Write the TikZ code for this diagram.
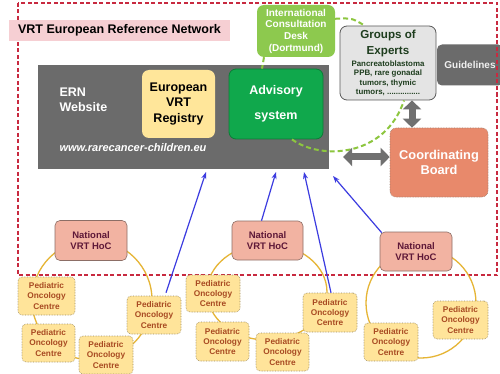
\documentclass[tikz,border=0pt]{standalone}
\usepackage{fontspec}
\setmainfont{Liberation Sans}
\usetikzlibrary{arrows.meta,calc}
\definecolor{erngray}{HTML}{6B6B6B}
\definecolor{regyellow}{HTML}{FFE69A}
\definecolor{advgreen}{HTML}{10A84C}
\definecolor{advborder}{HTML}{0B7D36}
\definecolor{icdgreen}{HTML}{8DC94E}
\definecolor{grpgray}{HTML}{E4E4E4}
\definecolor{grpborder}{HTML}{5A5A5A}
\definecolor{grptext}{HTML}{1E3D1E}
\definecolor{coordfill}{HTML}{E8896B}
\definecolor{coordborder}{HTML}{A08070}
\definecolor{hocfill}{HTML}{F2B3A2}
\definecolor{hocborder}{HTML}{8C6E66}
\definecolor{hoctext}{HTML}{5E1838}
\definecolor{pfill}{HTML}{FFE49A}
\definecolor{pborder}{HTML}{9A8A60}
\definecolor{ptext}{HTML}{A84A22}
\definecolor{ringcol}{HTML}{E6B535}
\definecolor{arrowblue}{HTML}{3C3CE0}
\definecolor{borderred}{HTML}{C82A40}
\definecolor{titlepink}{HTML}{F6CFD3}
\definecolor{fatgray}{HTML}{707070}
\definecolor{linkgreen}{HTML}{8DC63F}
\newcommand\grpbig{\fontsize{11.6}{14}\selectfont}
\begin{document}
\begin{tikzpicture}[x=1pt,y=-1pt,font=\bfseries]
\tikzset{
  box/.style={rounded corners=7pt,align=center,inner sep=1pt},
  podnode/.style={draw=pborder,densely dotted,line width=0.6pt,fill=pfill,rounded corners=4pt,
    minimum width=54pt,minimum height=38pt,align=center,text=ptext,inner sep=1pt,
    font=\bfseries\fontsize{8.3}{10.3}\selectfont},
  hocnode/.style={draw=hocborder,line width=0.6pt,fill=hocfill,rounded corners=5pt,
    minimum width=72pt,minimum height=40pt,align=center,text=hoctext,inner sep=1pt,
    font=\bfseries\fontsize{9.5}{11.5}\selectfont},
  ring/.style={draw=ringcol,line width=1.3pt},
  bluearrow/.style={draw=arrowblue,line width=1.2pt,-{Stealth[length=7pt,width=5pt]}},
  fatarrow/.style={draw=fatgray,line width=7pt,{Triangle[width=18pt,length=9pt]}-{Triangle[width=18pt,length=9pt]}},
  greenlink/.style={draw=linkgreen,line width=2pt,dash pattern=on 5pt off 3pt},
}
\useasboundingbox (0,0) rectangle (500,374);
\fill[white] (0,0) rectangle (500,374);

% ERN box
\node[fill=erngray,minimum width=291pt,minimum height=104pt,inner sep=0pt] (ern) at (183.5,117) {};
\node[anchor=west,text=white,align=left,font=\bfseries\fontsize{12.5}{15}\selectfont] (ernlabel) at (56,100) {ERN\\Website};
\node[anchor=west,text=white,font=\bfseries\itshape\fontsize{11}{13}\selectfont] (url) at (56,148) {www.rarecancer-children.eu};
\node[box,fill=regyellow,minimum width=73pt,minimum height=68pt,font=\bfseries\fontsize{12.5}{15.5}\selectfont] (registry) at (178.5,104) {European\\VRT\\Registry};
\node[box,draw=advborder,line width=0.8pt,fill=advgreen,minimum width=94pt,minimum height=70pt,text=white,font=\bfseries\fontsize{12.5}{25}\selectfont] (advisory) at (276,104) {Advisory\\system};

% Guidelines, groups, ICD, coordinating board
\node[box,rounded corners=5pt,fill=erngray,minimum width=66pt,minimum height=41pt,text=gray!12,font=\bfseries\fontsize{10}{12}\selectfont] (guide) at (470,65) {Guidelines};
\node[box,draw=grpborder,line width=0.8pt,fill=grpgray,minimum width=96pt,minimum height=74pt,text=grptext,font=\bfseries\fontsize{7.9}{9.5}\selectfont] (groups) at (388,63)
  {{\grpbig Groups of}\\[4.5pt]{\grpbig Experts}\\[2.5pt]Pancreatoblastoma\\PPB, rare gonadal\\tumors, thymic\\tumors, ...............};
\node[box,fill=icdgreen,minimum width=78pt,minimum height=52pt,text=white,font=\bfseries\fontsize{10}{11.7}\selectfont] (icd) at (296,31) {International\\Consultation\\Desk\\(Dortmund)};
\node[box,rounded corners=6pt,draw=coordborder,densely dotted,line width=0.6pt,fill=coordfill,minimum width=98pt,minimum height=69pt,text=white,font=\bfseries\fontsize{12.8}{14.5}\selectfont] (coord) at (439,162.5) {Coordinating\\Board};

% green dashed links
\draw[greenlink] ($(icd.north east)+(0,14)$) .. controls (352,18) .. ($(groups.north west)+(25,0)$);
\draw[greenlink] ($(icd.south)+(-32,0)$) -- ($(advisory.north)+(-14,0)$);
\draw[greenlink] ($(advisory.south)+(16,0)$) .. controls (320,160) and (385,158) .. ($(groups.south)+(16,0)$);

% fat gray arrows
\coordinate (va) at (412,0);
\coordinate (ha) at (0,157);
\draw[fatarrow] (groups.south -| va) -- (coord.north -| va);
\draw[fatarrow,shorten <=14pt] (ern.east |- ha) -- (coord.west |- ha);

% red dashed border
\draw[borderred,line width=1.3pt,dash pattern=on 4pt off 2.5pt] (18,3) rectangle (497,275);
% title
\node[fill=titlepink,minimum width=221pt,minimum height=21pt,inner sep=0pt,font=\bfseries\fontsize{12.5}{14}\selectfont] (title) at (119.5,30.5) {VRT European Reference Network};

% rings
\draw[ring] (92,300) circle [radius=60];
\draw[ring] (267,292) ellipse [x radius=60, y radius=48];
\draw[ring] (421,303) circle [radius=55];

% national HoC nodes
\node[hocnode] (hoc1) at (91,240.5) {National\\VRT HoC};
\node[hocnode,minimum width=71pt,minimum height=39pt] (hoc2) at (267.5,240.5) {National\\VRT HoC};
\node[hocnode,minimum height=39pt] (hoc3) at (416,251.5) {National\\VRT HoC};

% pediatric oncology centres
\node[podnode,minimum width=57pt] (p1) at (46.5,296) {Pediatric\\Oncology\\Centre};
\node[podnode,minimum width=53pt] (p2) at (48.5,343) {Pediatric\\Oncology\\Centre};
\node[podnode] (p3) at (106,355) {Pediatric\\Oncology\\Centre};
\node[podnode] (p4) at (154,315) {Pediatric\\Oncology\\Centre};
\node[podnode,minimum height=37pt] (p5) at (213,293.5) {Pediatric\\Oncology\\Centre};
\node[podnode,minimum width=53pt,minimum height=39pt] (p6) at (222.5,341.5) {Pediatric\\Oncology\\Centre};
\node[podnode,minimum width=53pt] (p7) at (282.5,352) {Pediatric\\Oncology\\Centre};
\node[podnode,minimum height=39pt] (p8) at (330,312.5) {Pediatric\\Oncology\\Centre};
\node[podnode] (p9) at (391,342) {Pediatric\\Oncology\\Centre};
\node[podnode,minimum width=55pt] (p10) at (460.5,320) {Pediatric\\Oncology\\Centre};

% blue arrows
\coordinate (t1) at (206,172);
\coordinate (t2) at (276,172);
\coordinate (t3) at (304,172);
\coordinate (t4) at (333,176);
\draw[bluearrow] ($(p4.north)+(12,-3)$) -- (t1);
\draw[bluearrow] ($(hoc2.north)+(-6,0)$) -- (t2);
\draw[bluearrow] ($(p8.north)+(1,0)$) -- (t3);
\draw[bluearrow] ($(hoc3.north west)+(2,1)$) -- (t4);
\end{tikzpicture}
\end{document}
